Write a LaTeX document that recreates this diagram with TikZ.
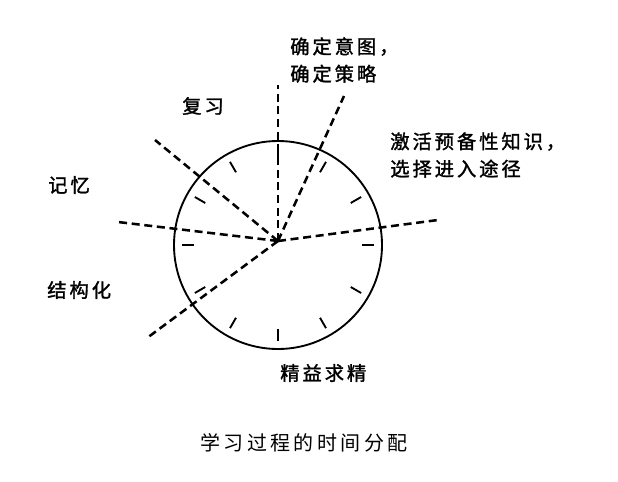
\documentclass[tikz,border=0pt]{standalone}
\usepackage{fontspec}
\newfontfamily\cjk[LetterSpace=15,FakeBold=1.5]{Noto Sans CJK SC}
\newfontfamily\cjkcap[LetterSpace=17]{Noto Sans CJK SC}

\begin{document}
\begin{tikzpicture}[x=0.75pt,y=-0.75pt,
	ray/.style={line width=1.9pt, dash pattern=on 6pt off 3.5pt},
	rim/.style={line width=1.4pt},
	lbl/.style={font=\cjk\fontsize{14.5}{20.5}\selectfont, inner sep=0pt, align=left}]
	\useasboundingbox (0,0) rectangle (618,482);
	\coordinate (o) at (278,245);
	\coordinate (hub) at (278,241);
	% clock face
	\draw [rim] (o) circle[radius=104];
	\foreach \a in {0,30,...,330}
		\draw [rim, shift={(o)}] (\a:84) -- (\a:96);
	% dashed rays
	\coordinate (eUp) at (278,85);
	\coordinate (eUpRight) at (344,96);
	\coordinate (eRight) at (438,220);
	\coordinate (eUpLeft) at (155,140);
	\coordinate (eLeft) at (118,222);
	\coordinate (eDownLeft) at (147,338);
	\draw [ray] (hub) -- (eUp);
	\draw [ray] (hub) -- (eUpRight);
	\draw [ray] (hub) -- (eRight);
	\draw [ray] (hub) -- (eUpLeft);
	\draw [ray] (hub) -- (eLeft);
	\draw [ray] (hub) -- (eDownLeft);
	% labels
	\node [lbl, anchor=west] (goal) at (290,60) {确定意图，\\确定策略};
	\node [lbl, anchor=west] (review) at (182,106) {复习};
	\node [lbl, anchor=west] (activate) at (390,155) {激活预备性知识，\\选择进入途径};
	\node [lbl, anchor=west] (memory) at (48,185) {记忆};
	\node [lbl, anchor=west] (structure) at (47,290) {结构化};
	\node [lbl, anchor=west] (refine) at (280,373) {精益求精};
	\node [font=\cjkcap\fontsize{15}{16}\selectfont, inner sep=0pt, anchor=west] (caption) at (200,443) {学习过程的时间分配};
\end{tikzpicture}
\end{document}
